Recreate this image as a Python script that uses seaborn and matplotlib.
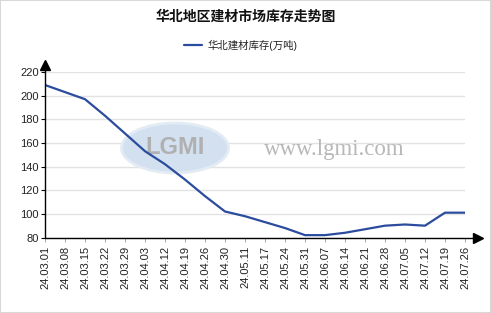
import matplotlib
matplotlib.use("Agg")
import matplotlib.pyplot as plt
import seaborn as sns
import pandas as pd
from matplotlib.patches import Ellipse, Rectangle

dates = ["24.03.01", "24.03.08", "24.03.15", "24.03.22", "24.03.29", "24.04.03",
         "24.04.12", "24.04.19", "24.04.26", "24.04.30", "24.05.11", "24.05.17",
         "24.05.24", "24.05.31", "24.06.07", "24.06.14", "24.06.21", "24.06.28",
         "24.07.05", "24.07.12", "24.07.19", "24.07.26"]
inventory = [209, 203, 197, 183, 168, 153, 142, 129, 115, 102, 98, 93,
             88, 82, 82, 84, 87, 90, 91, 90, 101, 101]
series_name = "华北建材库存(万吨)"
title = "华北地区建材市场库存走势图"
y_ticks = [80, 100, 120, 140, 160, 180, 200, 220]

sns.set_theme(style="white")
plt.rcParams["font.family"] = ["Liberation Sans", "Noto Sans CJK SC", "DejaVu Sans"]

W, H = 491, 313
fig = plt.figure(figsize=(W / 100, H / 100), dpi=100)
fig.patch.set_facecolor("white")

x0, x1 = 45, 465
ytop, ybot = 72, 237.5
ax = fig.add_axes([x0 / W, (H - ybot) / H, (x1 - x0) / W, (ybot - ytop) / H])
ax.set_facecolor("none")

df = pd.DataFrame({"date": dates, "value": inventory, "series": series_name})

# watermark (behind the line)
ax.add_patch(Ellipse((175 / W, 1 - 148 / H), 107 / W, 50 / H,
                     transform=fig.transFigure, facecolor="#d3e0ef",
                     edgecolor="#e3ebf5", lw=2, zorder=1, clip_on=False))
ax.text(175 / W, 1 - 148 / H, "LGMI", ha="center", va="center", fontsize=17,
        fontweight="bold", color="#b0b0b0", zorder=1.5,
        family=["Liberation Sans"], transform=fig.transFigure)
ax.text(334 / W, 1 - 150 / H, "www.lgmi.com", ha="center", va="center",
        fontsize=16.5, color="#b8b8b8", family=["Liberation Serif"], zorder=1.5,
        transform=fig.transFigure)

sns.lineplot(data=df, x="date", y="value", hue="series", sort=False,
             palette=["#2b4c9e"], lw=1.6, ax=ax, zorder=3)

ax.set_xlim(0, len(dates) - 1)
ax.set_ylim(80, 220)
ax.set_yticks(y_ticks)
ax.set_xticks(range(len(dates)))
ax.set_xticklabels(dates, rotation=90, fontsize=8, color="#222222")
ax.tick_params(axis="y", labelsize=8, length=3, width=0.8, color="black",
               pad=1.5, labelcolor="#222222", left=True)
ax.tick_params(axis="x", length=3, width=0.6, color="#999999", pad=3, bottom=True)
ax.grid(axis="y", color="#e2e2e2", lw=1, zorder=0.5)
ax.grid(axis="x", visible=False)
ax.set_axisbelow(True)
ax.set_xlabel("")
ax.set_ylabel("")
for s in ax.spines.values():
    s.set_visible(False)

# axes with arrows
ax.plot([0, 0], [0, 1.03], transform=ax.transAxes, color="black", lw=1,
        clip_on=False, zorder=4)
ax.plot([0], [1.045], marker="^", ms=7, color="black", transform=ax.transAxes,
        clip_on=False, zorder=4)
ax.plot([0, 1.022], [0, 0], transform=ax.transAxes, color="black", lw=1,
        clip_on=False, zorder=4)
ax.plot([1.03], [0], marker=">", ms=7, color="black", transform=ax.transAxes,
        clip_on=False, zorder=4)

fig.text(245.5 / W, 1 - 17 / H, title, ha="center", va="center", fontsize=10,
         fontweight="bold", color="#111111")

leg = ax.legend(loc="center", bbox_to_anchor=(241 / W, 1 - 45 / H),
                bbox_transform=fig.transFigure, frameon=False, fontsize=7.5,
                handlelength=1.7, handletextpad=0.6)
for t in leg.get_texts():
    t.set_color("#222222")

fig.patches.append(Rectangle((0, 0), 1, 1, transform=fig.transFigure,
                             fill=False, edgecolor="#d8d8d8", lw=1.5))

fig.savefig("out.png", dpi=100)
